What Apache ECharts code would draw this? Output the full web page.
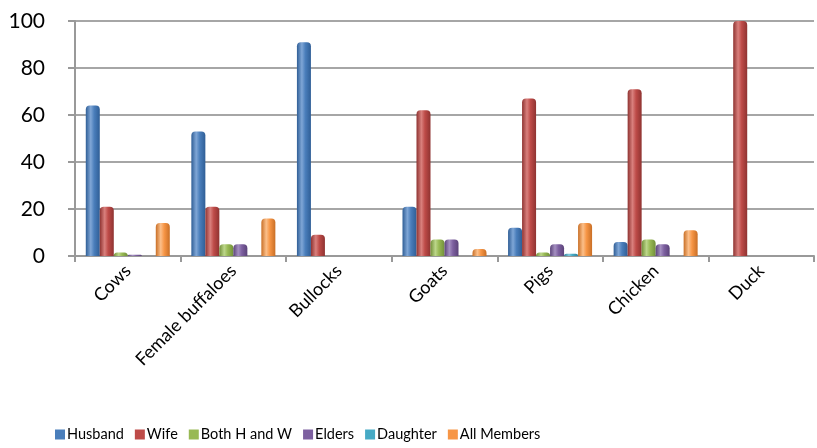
<!DOCTYPE html>
<html><head><meta charset="utf-8">
<script src="https://cdn.jsdelivr.net/npm/echarts@6/dist/echarts.min.js"></script>
<style>html,body{margin:0;padding:0;background:#fff}#c{width:817px;height:448px}</style>
</head><body><div id="c"></div>
<script>
const categories = ['Cows','Female buffaloes','Bullocks','Goats','Pigs','Chicken','Duck'];
const husband    = [64, 53, 91, 21, 12, 6, 0];
const wife       = [21, 21, 9, 62, 67, 71, 100];
const bothHW     = [1.5, 5, 0, 7, 1.5, 7, 0];
const elders     = [0.5, 5, 0, 7, 5, 5, 0];
const daughter   = [0, 0, 0, 0, 1, 0, 0];
const allMembers = [14, 16, 0, 3, 14, 11, 0];
const yTicks = [0, 20, 40, 60, 80, 100];

const seriesDefs = [
  ['Husband', husband, '#4a7ebb', '#2f5e96', '#7fa6d6'],
  ['Wife', wife, '#be4b48', '#8f3331', '#d9807d'],
  ['Both H and W', bothHW, '#98b954', '#72903a', '#bcd68a'],
  ['Elders', elders, '#7d60a0', '#5b4379', '#a48fc0'],
  ['Daughter', daughter, '#46aac5', '#2f8098', '#82cbdd'],
  ['All Members', allMembers, '#f79646', '#c96f26', '#fbbf8a']
];

const font = 'Lato, "Open Sans", sans-serif';
const chart = echarts.init(document.getElementById('c'));
chart.setOption({
  animation: false,
  grid: {left: 75, right: 3, top: 21, bottom: 192},
  legend: {
    bottom: 1, left: 50, itemWidth: 10, itemHeight: 10, itemGap: 11,
    icon: 'rect',
    textStyle: {fontFamily: font, fontSize: 14.5, color: '#000', padding: [0,0,0,-3]},
    data: seriesDefs.map(s => ({name: s[0], itemStyle: {color: s[2]}}))
  },
  xAxis: {
    type: 'category', data: categories,
    axisLine: {lineStyle: {color: '#999', width: 2}},
    axisTick: {show: true, length: 6, lineStyle: {color: '#999', width: 2}},
    axisLabel: {rotate: 45, fontFamily: font, fontSize: 18, color: '#000', margin: 12, interval: 0}
  },
  yAxis: {
    type: 'value', min: yTicks[0], max: yTicks[yTicks.length-1], interval: 20,
    axisLine: {show: true, lineStyle: {color: '#999', width: 2}},
    axisTick: {show: true, length: 7, lineStyle: {color: '#999', width: 2}},
    axisLabel: {fontFamily: font, fontSize: 21, color: '#000', margin: 30},
    splitLine: {lineStyle: {color: '#a6a6a6', width: 2}}
  },
  series: seriesDefs.map(([name, data, c, dark, light]) => ({
    name, type: 'bar', data, barWidth: 14, barGap: '0%',
    itemStyle: {
      color: new echarts.graphic.LinearGradient(0, 0, 1, 0, [
        {offset: 0, color: dark}, {offset: 0.35, color: light}, {offset: 0.6, color: c}, {offset: 1, color: dark}
      ]),
      borderRadius: [4, 4, 0, 0]
    }
  }))
});
</script></body></html>
